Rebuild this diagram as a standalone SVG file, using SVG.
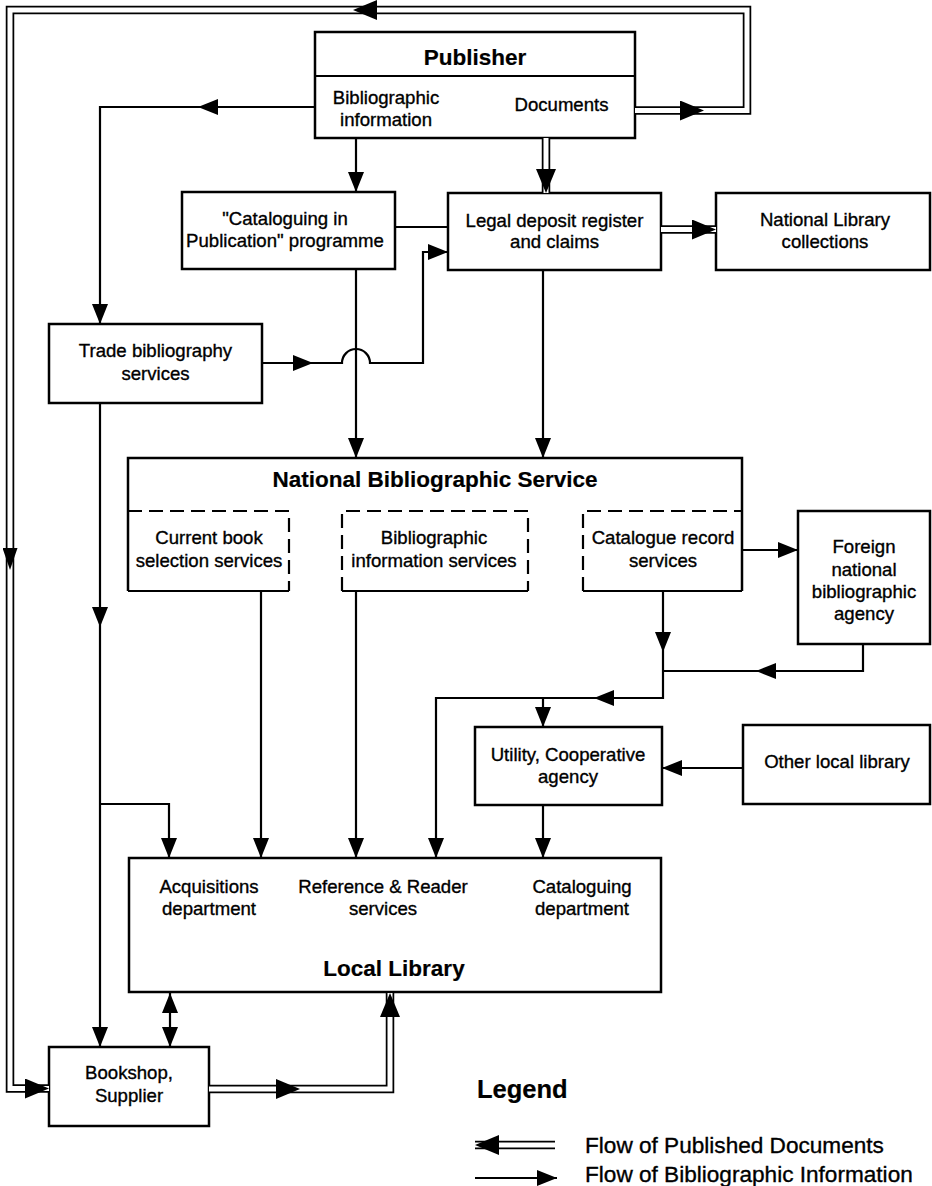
<svg xmlns="http://www.w3.org/2000/svg" width="932" height="1186" viewBox="0 0 932 1186">
<defs>
<style>
.box{fill:#fff;stroke:#000;stroke-width:2.5}
.dash{fill:none;stroke:#000;stroke-width:2.2;stroke-dasharray:14 7}
.sol{fill:none;stroke:#000;stroke-width:2.2}
.ln{fill:none;stroke:#000;stroke-width:2.2;stroke-linejoin:miter}
.dO{fill:none;stroke:#000;stroke-width:8.5;stroke-linejoin:miter}
.dI{fill:none;stroke:#fff;stroke-width:5;stroke-linejoin:miter}
text{font-family:"Liberation Sans",Arial,Helvetica,sans-serif;font-size:18.6px;fill:#000;stroke:#000;stroke-width:0.35;text-anchor:middle}
.b{font-weight:bold;font-size:22.5px;stroke-width:0.2}
.lg{text-anchor:start;font-size:22.6px}
</style>
<marker id="ah" markerUnits="userSpaceOnUse" viewBox="0 0 20 16" markerWidth="20" markerHeight="16" refX="20" refY="8" orient="auto">
<path d="M0,0 L20,8 L0,16 Z" fill="#000"/>
</marker>
<marker id="ahs" markerUnits="userSpaceOnUse" viewBox="0 0 20 16" markerWidth="20" markerHeight="16" refX="20" refY="8" orient="auto-start-reverse">
<path d="M0,0 L20,8 L0,16 Z" fill="#000"/>
</marker>
<marker id="ahd" markerUnits="userSpaceOnUse" viewBox="0 0 24 20" markerWidth="24" markerHeight="20" refX="24" refY="10" orient="auto">
<path d="M0,0 L24,10 L0,20 Z" fill="#000"/>
</marker>
<marker id="ahn" markerUnits="userSpaceOnUse" viewBox="0 0 22 15" markerWidth="22" markerHeight="15" refX="22" refY="7.5" orient="auto">
<path d="M0,0 L22,7.5 L0,15 Z" fill="#000"/>
</marker>
</defs>
<rect width="932" height="1186" fill="#fff"/>

<g id="publisher">
<rect class="box" x="315" y="32" width="320" height="106"/>
<line class="sol" x1="315" y1="76" x2="635" y2="76"/>
<text class="b" x="475" y="65">Publisher</text>
<text x="386" y="104">Bibliographic</text>
<text x="386" y="126">information</text>
<text x="561.5" y="111">Documents</text>
</g>

<g id="cip">
<rect class="box" x="182" y="192" width="213" height="77"/>
<text x="285" y="225">"Cataloguing in</text>
<text x="285" y="247">Publication" programme</text>
</g>

<g id="legal-deposit">
<rect class="box" x="448" y="193" width="213" height="77"/>
<text x="554.5" y="226.5">Legal deposit register</text>
<text x="554.5" y="248">and claims</text>
</g>

<g id="national-library">
<rect class="box" x="716" y="193" width="214" height="77"/>
<text x="825" y="226">National Library</text>
<text x="825" y="248">collections</text>
</g>

<g id="trade">
<rect class="box" x="49" y="324" width="213" height="79"/>
<text x="155.5" y="357">Trade bibliography</text>
<text x="155.5" y="380">services</text>
</g>

<g id="nbs">
<path class="sol" d="M128,591 V458 H742 V591" style="stroke-width:2.5"/>
<text class="b" x="435" y="487">National Bibliographic Service</text>
</g>

<g id="current-book">
<path class="dash" d="M128,511 H289 V591"/>
<line class="sol" x1="128" y1="591" x2="289" y2="591"/>
<text x="209" y="544">Current book</text>
<text x="209" y="567">selection services</text>
</g>

<g id="bib-info-services">
<path class="dash" d="M342,591 V511 H528 V591"/>
<line class="sol" x1="342" y1="591" x2="528" y2="591"/>
<text x="434" y="544">Bibliographic</text>
<text x="434" y="567">information services</text>
</g>

<g id="catalogue-record">
<path class="dash" d="M583,591 V511 H742"/>
<line class="sol" x1="583" y1="591" x2="742" y2="591"/>
<text x="663" y="544">Catalogue record</text>
<text x="663" y="567">services</text>
</g>

<g id="foreign-agency">
<rect class="box" x="798" y="511" width="132" height="133"/>
<text x="864" y="553">Foreign</text>
<text x="864" y="575.5">national</text>
<text x="864" y="598">bibliographic</text>
<text x="864" y="620">agency</text>
</g>

<g id="utility">
<rect class="box" x="475" y="727" width="187" height="78"/>
<text x="568" y="761">Utility, Cooperative</text>
<text x="568" y="783">agency</text>
</g>

<g id="other-local">
<rect class="box" x="743" y="725" width="187" height="79"/>
<text x="837" y="768">Other local library</text>
</g>

<g id="local-library">
<rect class="box" x="129" y="858" width="532" height="134"/>
<text x="209" y="893">Acquisitions</text>
<text x="209" y="915">department</text>
<text x="383" y="893">Reference &amp; Reader</text>
<text x="383" y="915">services</text>
<text x="582" y="893">Cataloguing</text>
<text x="582" y="915">department</text>
<text class="b" x="394" y="976">Local Library</text>
</g>

<g id="bookshop">
<rect class="box" x="49" y="1047" width="160" height="79"/>
<text x="129" y="1079">Bookshop,</text>
<text x="129" y="1102">Supplier</text>
</g>

<g id="connectors">
<!-- documents loop -->
<path class="dO" d="M635,110.5 H747 V10 H10 V1088.5 H49"/>
<path class="dI" d="M635,110.5 H704" marker-end="url(#ahd)"/>
<path class="dI" d="M704,110.5 H747 V10 H353" marker-end="url(#ahd)"/>
<path class="dI" d="M353,10 H10 V570" marker-end="url(#ahn)"/>
<path class="dI" d="M10,570 V1088.5 H49" marker-end="url(#ahd)"/>
<!-- documents to legal deposit -->
<path class="dO" d="M546,138 V193"/>
<path class="dI" d="M546,138 V193" marker-end="url(#ahd)"/>
<!-- legal deposit to national library -->
<path class="dO" d="M661,229.5 H716"/>
<path class="dI" d="M661,229.5 H716" marker-end="url(#ahd)"/>
<!-- bookshop to local library -->
<path class="dO" d="M209,1089 H390 V993"/>
<path class="dI" d="M209,1089 H300" marker-end="url(#ahd)"/>
<path class="dI" d="M300,1089 H390 V993" marker-end="url(#ahd)"/>

<!-- bibliographic information -->
<path class="ln" d="M315,107 H198" marker-end="url(#ah)"/>
<path class="ln" d="M198,107 H100 V324" marker-end="url(#ah)"/>
<path class="ln" d="M356,138 V192" marker-end="url(#ah)"/>
<path class="ln" d="M395,227 H448"/>
<path class="ln" d="M262,363 H313" marker-end="url(#ah)"/>
<path class="ln" d="M313,363 H342 A14,14 0 0 1 370,363 H423 V252 H448" marker-end="url(#ah)"/>
<path class="ln" d="M356,269 V458" marker-end="url(#ah)"/>
<path class="ln" d="M543,270 V458" marker-end="url(#ah)"/>
<path class="ln" d="M742,550 H798" marker-end="url(#ah)"/>
<path class="ln" d="M663,591 V652" marker-end="url(#ah)"/>
<path class="ln" d="M663,652 V698 H594" marker-end="url(#ah)"/>
<path class="ln" d="M594,698 H436 V858" marker-end="url(#ah)"/>
<path class="ln" d="M543,698 V727" marker-end="url(#ah)"/>
<path class="ln" d="M863,644 V671 H756" marker-end="url(#ah)"/>
<path class="ln" d="M756,671 H663"/>
<path class="ln" d="M743,768 H662" marker-end="url(#ah)"/>
<path class="ln" d="M543,805 V858" marker-end="url(#ah)"/>
<path class="ln" d="M261,591 V858" marker-end="url(#ah)"/>
<path class="ln" d="M356,591 V858" marker-end="url(#ah)"/>
<path class="ln" d="M100,403 V627" marker-end="url(#ah)"/>
<path class="ln" d="M100,627 V1047" marker-end="url(#ah)"/>
<path class="ln" d="M100,804 H169 V858" marker-end="url(#ah)"/>
<path class="ln" d="M170,993 V1047" marker-start="url(#ahs)" marker-end="url(#ah)"/>
</g>

<g id="legend">
<text class="b" x="477" y="1098" style="text-anchor:start;font-size:25.5px">Legend</text>
<path class="dO" d="M555,1145 H475"/>
<path class="dI" d="M555,1145 H475" marker-end="url(#ahd)"/>
<path class="ln" d="M475,1178 H557" marker-end="url(#ah)"/>
<text class="lg" x="585" y="1153">Flow of Published Documents</text>
<text class="lg" x="585" y="1182">Flow of Bibliographic Information</text>
</g>
</svg>
